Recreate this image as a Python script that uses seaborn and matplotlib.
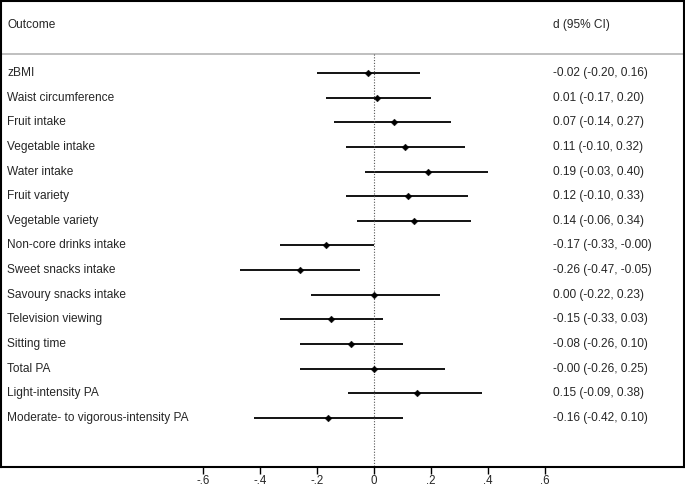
import matplotlib
matplotlib.use("Agg")
import matplotlib.pyplot as plt
import pandas as pd
import seaborn as sns

outcomes = [
    "zBMI", "Waist circumference", "Fruit intake", "Vegetable intake",
    "Water intake", "Fruit variety", "Vegetable variety",
    "Non-core drinks intake", "Sweet snacks intake", "Savoury snacks intake",
    "Television viewing", "Sitting time", "Total PA", "Light-intensity PA",
    "Moderate- to vigorous-intensity PA",
]
d_est = [-0.02, 0.01, 0.07, 0.11, 0.19, 0.12, 0.14, -0.17, -0.26, 0.00,
         -0.15, -0.08, -0.00, 0.15, -0.16]
ci_low = [-0.20, -0.17, -0.14, -0.10, -0.03, -0.10, -0.06, -0.33, -0.47, -0.22,
          -0.33, -0.26, -0.26, -0.09, -0.42]
ci_high = [0.16, 0.20, 0.27, 0.32, 0.40, 0.33, 0.34, -0.00, -0.05, 0.23,
           0.03, 0.10, 0.25, 0.38, 0.10]
tick_vals = [-0.6, -0.4, -0.2, 0, 0.2, 0.4, 0.6]
tick_labels = ["-.6", "-.4", "-.2", "0", ".2", ".4", ".6"]

df = pd.DataFrame({"outcome": outcomes, "d": d_est, "lo": ci_low, "hi": ci_high})
df["row"] = range(len(df))
df["label"] = [f"{d:.2f} ({lo:.2f}, {hi:.2f})" for d, lo, hi in zip(d_est, ci_low, ci_high)]

sns.set_style("white")
plt.rcParams["font.family"] = ["Liberation Sans", "DejaVu Sans"]

W, H = 685, 487
fig = plt.figure(figsize=(W / 100, H / 100), dpi=100)
ax = fig.add_axes([1 / W, (H - 467) / H, 683 / W, 466 / H])

# pixel -> data mapping: 0 at x=374px, 0.2 per 57px; row 0 at y=73px, 24.64px per row
px_per_unit = 285.0
x0_px = 374 - 1
xmin = -x0_px / px_per_unit
xmax = (683 - x0_px) / px_per_unit
row_px = 24.64
ytop = (1 - 73) / row_px
ybot = (467 - 73) / row_px
ax.set_xlim(xmin, xmax)
ax.set_ylim(ybot, ytop)

ax.hlines(df["row"], df["lo"], df["hi"], color="black", linewidth=1.3, zorder=2)
sns.scatterplot(data=df, x="d", y="row", ax=ax, color="black", marker="D",
                s=12, edgecolor="black", zorder=3, legend=False)

sep_y = (54 - 73) / row_px
ax.axhline(sep_y, color="#b4b4b4", linewidth=1.2)
ax.vlines(0, sep_y, ybot, color="#555555", linewidth=0.8, linestyles=(0, (1, 1.5)))

fs = 8.6
lab_x = xmin + 6 / px_per_unit
ci_x = xmin + 552 / px_per_unit
for r, name, lab in zip(df["row"], df["outcome"], df["label"]):
    ax.text(lab_x, r, name, va="center", ha="left", fontsize=fs)
    ax.text(ci_x, r, lab, va="center", ha="left", fontsize=fs)
head_y = (25 - 73) / row_px
ax.text(lab_x, head_y, "Outcome", va="center", ha="left", fontsize=fs)
ax.text(ci_x, head_y, "d (95% CI)", va="center", ha="left", fontsize=fs)

ax.set_xticks(tick_vals)
ax.set_xticklabels(tick_labels, fontsize=8.3)
ax.set_yticks([])
ax.set_xlabel("")
ax.set_ylabel("")
ax.tick_params(axis="x", direction="out", length=5, width=1, color="black", pad=0.8,
               bottom=True)
for sp in ax.spines.values():
    sp.set_visible(True)
    sp.set_color("black")
    sp.set_linewidth(1.5)

fig.savefig("out.png", dpi=100)
